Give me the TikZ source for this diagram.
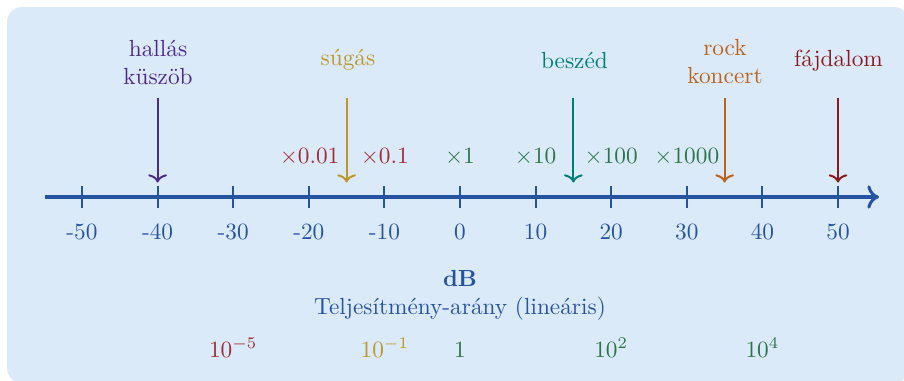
\documentclass[tikz,border=0pt]{standalone}
\usetikzlibrary{arrows.meta}
\definecolor{bgblue}{HTML}{DBEAF8}
\definecolor{axisblue}{HTML}{2553A0}
\definecolor{cpurple}{HTML}{4E2A8E}
\definecolor{cgold}{HTML}{BF962C}
\definecolor{cteal}{HTML}{007D78}
\definecolor{corange}{HTML}{BD621A}
\definecolor{cdarkred}{HTML}{8A181C}
\definecolor{cgreen}{HTML}{2B7549}
\definecolor{cred}{HTML}{A02C35}
\tikzset{
  axisline/.style={draw=axisblue, line width=1.3pt, -{To[length=5pt,width=10pt]}},
  tickline/.style={draw=axisblue, line width=0.85pt},
  ticklabel/.style={text=axisblue, anchor=base, inner sep=0pt},
  marker/.style={line width=0.85pt, -{To[length=3.5pt,width=8pt]}},
  lbl/.style={anchor=base, inner sep=0pt, align=center},
}
\begin{document}
\begin{tikzpicture}[x=0.4292pt,y=-0.4292pt]
\useasboundingbox (0,0) rectangle (904,380);
\clip (0,0) rectangle (904,380);
\fill[bgblue, rounded corners=6.5pt] (7,7) rectangle (909,383);

% axis
\coordinate (axL) at (45,197);
\coordinate (axR) at (879,197);
\draw[axisline] (axL) -- (axR);

% ticks and labels
\foreach \d [count=\i] in {-50,-40,...,50} {
  \pgfmathsetmacro\xx{460+7.56*\d}
  \coordinate (ta\i) at (\xx,186);
  \coordinate (tb\i) at (\xx,208);
  \draw[tickline] (ta\i) -- (tb\i);
  \node[ticklabel] (tl\i) at (\xx,239) {\d};
}

% multipliers
\node[lbl, text=cred] (m1) at (309.6,163) {$\times0.01$};
\node[lbl, text=cred] (m2) at (384.8,163) {$\times0.1$};
\node[lbl, text=cgreen] (m3) at (460,163) {$\times1$};
\node[lbl, text=cgreen] (m4) at (535.6,163) {$\times10$};
\node[lbl, text=cgreen] (m5) at (611.2,163) {$\times100$};
\node[lbl, text=cgreen] (m6) at (686.8,163) {$\times1000$};

% event labels
\node[lbl, text=cpurple] (hal) at (158,84.3) {hallás\\küszöb};
\node[lbl, text=cgold] (sug) at (348,65.5) {súgás};
\node[lbl, text=cteal] (bes) at (574.5,68.5) {beszéd};
\node[lbl, text=corange] (roc) at (725,83.3) {rock\\koncert};
\node[lbl, text=cdarkred] (faj) at (838.5,66.5) {fájdalom};

% event arrows
\foreach \n/\x/\c in {a/157.6/cpurple, b/346.6/cgold, c/573.4/cteal, d/724.6/corange, e/838/cdarkred} {
  \coordinate (s\n) at (\x,98);
  \coordinate (e\n) at (\x,182.5);
  \draw[marker, draw=\c] (s\n) -- (e\n);
}

% axis titles
\node[lbl, text=axisblue, font=\bfseries] (db) at (460,286) {dB};
\node[lbl, text=axisblue] (tel) at (460,314) {Teljesítmény-arány (lineáris)};

% linear values
\node[lbl, text=cred] (v1) at (233.2,357) {$10^{-5}$};
\node[lbl, text=cgold] (v2) at (384.8,357) {$10^{-1}$};
\node[lbl, text=cgreen] (v3) at (460,357) {$1$};
\node[lbl, text=cgreen] (v4) at (611.2,357) {$10^{2}$};
\node[lbl, text=cgreen] (v5) at (762.4,357) {$10^{4}$};
\end{tikzpicture}
\end{document}
